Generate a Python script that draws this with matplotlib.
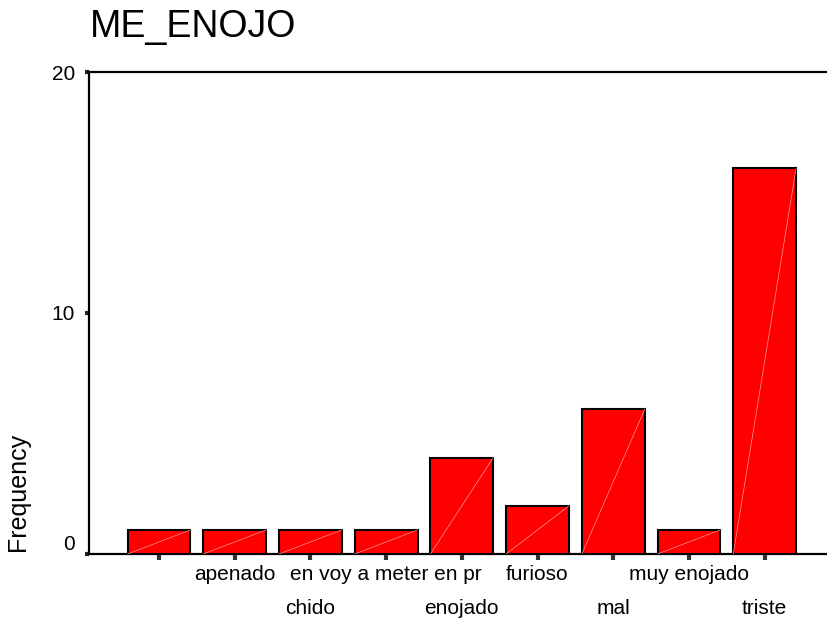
import matplotlib
matplotlib.use('Agg')
from matplotlib import pyplot as plt
from matplotlib import transforms
import numpy as np

plt.rcParams['font.family'] = ['Liberation Sans', 'DejaVu Sans']

# data
categories = ['', 'apenado', 'chido', 'en voy a meter en pr', 'enojado',
              'furioso', 'mal', 'muy enojado', 'triste']
counts = [1, 1, 1, 1, 4, 2, 6, 1, 16]
yticks = [0, 10, 20]

fig = plt.figure(figsize=(8.27, 6.23), dpi=100)
ax = fig.add_axes([89/827, (623-554)/623, (826-89)/827, (554-72)/623])

x = np.arange(len(categories))
bars = ax.bar(x, counts, width=0.83, color='#ff0000', edgecolor='black', linewidth=1.5, zorder=3)
# faint diagonal on each bar
for b in bars:
    x0 = b.get_x()
    ax.plot([x0, x0 + b.get_width()], [0, b.get_height()], color='#ff9a9a', lw=0.5, zorder=4)

ax.set_xlim(-0.925, 8.81)
ax.set_ylim(0, 20)

for side in ['left', 'bottom', 'top']:
    ax.spines[side].set_linewidth(1.6)
    ax.spines[side].set_color('black')
ax.spines['right'].set_visible(False)

ax.set_yticks(yticks)
ax.set_yticklabels([str(v) for v in yticks], fontsize=15)
ax.tick_params(axis='y', length=3, width=3, color='#222222', pad=7)
ax.get_yticklabels()[0].set_va('bottom')

ax.set_xticks(x)
ax.set_xticklabels([])
ax.tick_params(axis='x', length=4, width=3, color='#333333')

# staggered category labels
trans = transforms.blended_transform_factory(ax.transData, ax.transAxes)
for i, lab in enumerate(categories):
    if lab == '':
        continue
    off = -21 if i % 2 == 1 else -54
    t = transforms.offset_copy(trans, fig=fig, x=0, y=off, units='dots')
    ax.text(x[i], 0, lab, transform=t, ha='center', va='center', fontsize=15)

fig.text(18/827, 1 - 492/623, 'Frequency', rotation=90, ha='center', va='center', fontsize=18)
fig.text(90/827, 1 - 37/623, 'ME_ENOJO', ha='left', va='baseline', fontsize=27)

plt.savefig('out.png', dpi=100)
